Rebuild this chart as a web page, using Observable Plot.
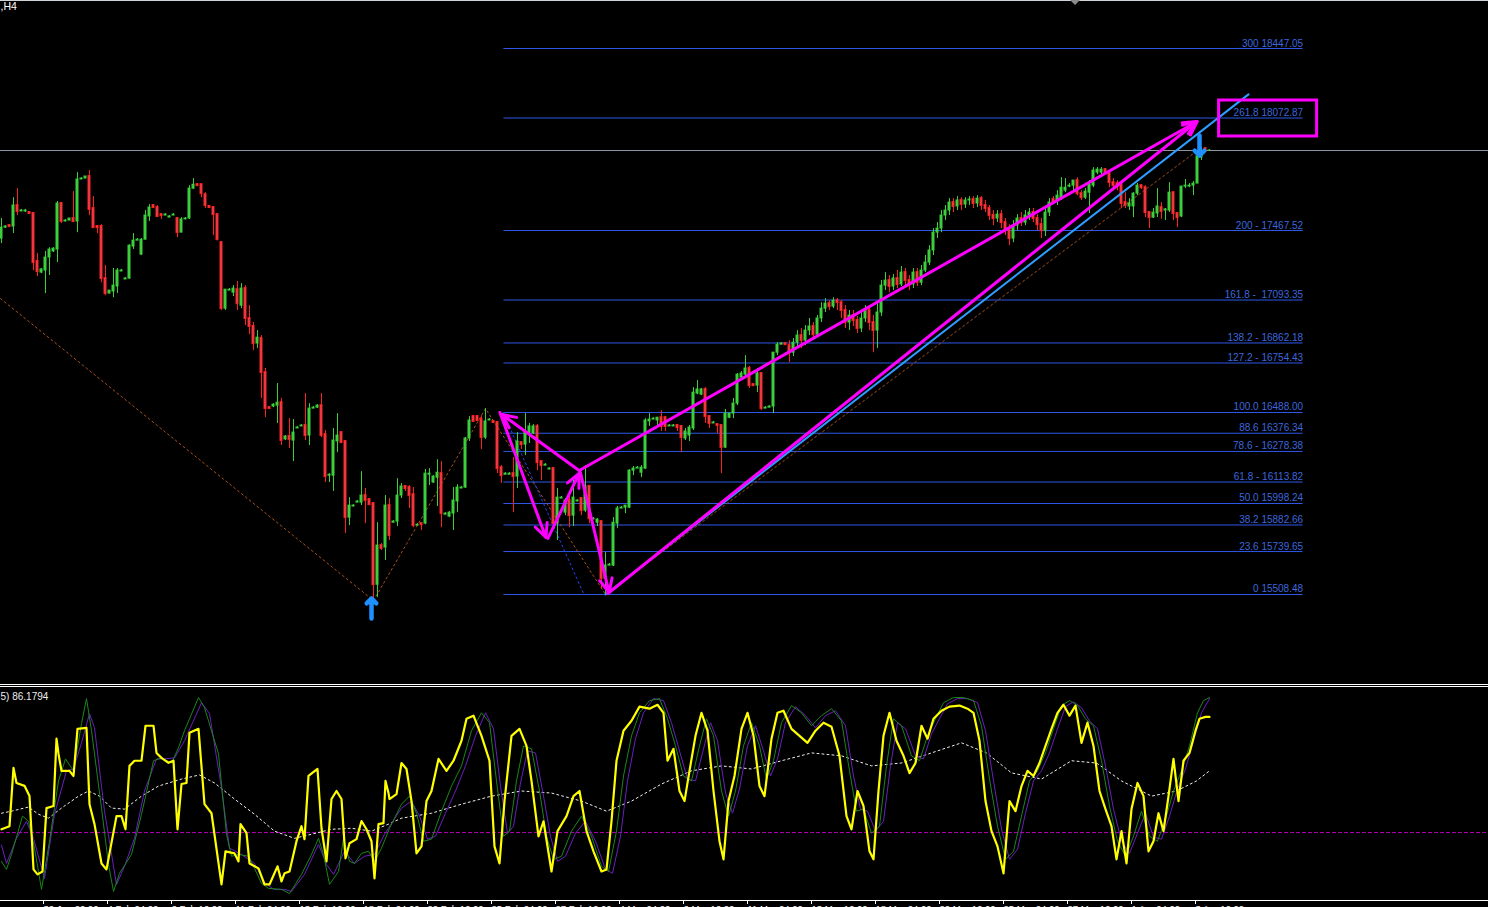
<!DOCTYPE html>
<html><head><meta charset="utf-8">
<script src="https://cdn.jsdelivr.net/npm/d3@7"></script>
<script src="https://cdn.jsdelivr.net/npm/@observablehq/plot@0.6"></script>
<style>
html,body{margin:0;padding:0;background:#000;overflow:hidden}
#wrap{position:relative;width:1488px;height:907px;background:#000;overflow:hidden}
#top{position:absolute;left:0;top:0;width:1488px;height:684px}
#bot{position:absolute;left:0;top:687px;width:1488px;height:220px}
.hl{position:absolute;left:0;width:1488px;height:1px;background:#fff}
#shift{position:absolute;left:1070px;top:0;width:0;height:0;border-left:5px solid transparent;border-right:5px solid transparent;border-top:5px solid #8a8a8a}
svg{display:block}
</style></head>
<body><div id="wrap"><div id="top"></div><div class="hl" style="top:684px"></div><div class="hl" style="top:686px"></div><div id="bot"></div><div class="hl" style="top:0px;background:#cfd3da"></div><div id="shift"></div></div>
<script>
// ---------- price candles (H4) ----------
const opens = [
17424,17483,17494,17489,17602,17570,17570,17564,17559,17301,
17241,17252,17322,17355,17365,17613,17516,17521,17532,17516,
17742,17747,17758,17586,17489,17489,17209,17128,17139,17166,
17247,17204,17209,17381,17413,17338,17418,17543,17602,17591,
17553,17548,17537,17548,17532,17456,17527,17532,17693,17714,
17714,17660,17597,17591,17553,17402,17047,17144,17133,17149,
17063,17155,16994,16951,16859,16886,16703,16514,16520,16525,
16541,16343,16359,16337,16402,16413,16418,16364,16509,16514,
16525,16369,16148,16148,16332,16380,16332,15922,15982,16003,
16003,16041,16019,15998,15561,15772,15761,15987,15895,15901,
16041,16090,16084,16046,15879,15890,15890,16153,16111,16137,
16159,15938,15928,15944,16009,16079,16084,16348,16466,16466,
16450,16353,16445,16440,16434,16191,16153,16153,16159,16143,
16326,16315,16380,16375,16413,16224,16202,16181,16186,15890,
16025,15949,16014,15933,16009,16025,15960,16090,15912,15895,
15901,15594,15664,15664,15890,15971,15976,15976,16175,16186,
16164,16186,16440,16450,16445,16460,16460,16413,16413,16418,
16413,16348,16364,16402,16590,16584,16612,16466,16429,16423,
16418,16299,16460,16482,16536,16676,16692,16725,16638,16633,
16698,16509,16514,16520,16810,16853,16859,16848,16810,16864,
16902,16875,16929,16951,16907,16994,17047,17074,17058,17090,
17079,17037,16972,17010,16983,16940,16994,17037,16972,16929,
17026,17171,17198,17166,17209,17177,17241,17198,17177,17241,
17187,17252,17295,17360,17456,17478,17548,17575,17618,17597,
17629,17607,17629,17634,17613,17639,17602,17586,17548,17532,
17553,17510,17478,17424,17494,17532,17510,17548,17564,17532,
17499,17467,17564,17634,17624,17639,17682,17704,17709,17736,
17666,17644,17671,17709,17779,17779,17795,17774,17725,17720,
17714,17618,17597,17597,17666,17709,17698,17564,17537,17559,
17591,17575,17575,17671,17559,17543,17704,17704,17709,17720,
17860,17908,17898];
const highs = [
17532,17494,17499,17644,17693,17581,17581,17570,17559,17344,
17263,17355,17375,17375,17624,17618,17527,17532,17677,17779,
17752,17758,17790,17650,17494,17499,17279,17144,17263,17263,
17258,17214,17391,17451,17424,17424,17575,17607,17607,17602,
17559,17559,17548,17559,17537,17537,17537,17709,17747,17720,
17714,17671,17602,17597,17559,17408,17149,17155,17171,17193,
17182,17171,17063,16972,16929,16902,16725,16520,16536,16644,
16563,16364,16455,16450,16413,16423,16590,16536,16520,16530,
16590,16391,16159,16402,16482,16380,16332,16030,15992,16014,
16170,16079,16025,15998,15895,15783,16041,16025,15906,16132,
16106,16090,16095,16084,15890,15890,16181,16186,16148,16234,
16224,15949,15955,16084,16100,16090,16353,16466,16471,16471,
16471,16509,16455,16445,16440,16202,16164,16164,16245,16380,
16326,16482,16429,16423,16423,16224,16213,16191,16186,16079,
16036,16025,16057,16132,16019,16030,16202,16095,15922,15917,
15901,15734,15675,15922,15982,15982,15987,16181,16197,16197,
16202,16455,16482,16460,16460,16498,16466,16423,16423,16418,
16418,16402,16418,16622,16660,16617,16622,16471,16440,16423,
16418,16504,16482,16563,16698,16709,16794,16736,16644,16725,
16698,16520,16525,16810,16864,16864,16864,16875,16886,16929,
16940,16956,16994,16972,17010,17079,17101,17090,17106,17101,
17090,17063,17037,17037,17005,17026,17063,17063,17010,17079,
17198,17241,17225,17231,17252,17274,17263,17225,17263,17263,
17279,17333,17386,17478,17510,17575,17602,17639,17639,17650,
17644,17644,17650,17650,17655,17650,17629,17602,17575,17575,
17575,17532,17499,17521,17553,17564,17575,17586,17586,17553,
17532,17586,17639,17650,17682,17752,17747,17720,17736,17752,
17682,17693,17736,17806,17806,17806,17801,17779,17747,17736,
17736,17671,17639,17671,17720,17714,17709,17564,17586,17693,
17618,17586,17725,17671,17559,17704,17742,17720,17731,17866,
17914,17914,17903];
const lows = [
17397,17478,17483,17451,17548,17570,17564,17553,17252,17220,
17236,17128,17225,17349,17295,17505,17516,17521,17510,17456,
17742,17747,17548,17478,17451,17187,17117,17128,17106,17128,
17247,17204,17204,17365,17413,17333,17418,17516,17586,17537,
17527,17548,17537,17548,17429,17456,17527,17527,17688,17709,
17644,17586,17586,17440,17413,17037,17037,17144,17112,17037,
17047,16956,16907,16821,16832,16563,16460,16504,16514,16429,
16310,16337,16294,16224,16402,16413,16337,16310,16509,16509,
16353,16111,16111,16063,16272,16321,15837,15879,15982,16003,
15987,15890,15987,15476,15492,15745,15691,15799,15895,15874,
16025,16063,15971,15868,15879,15853,15884,16095,16106,15982,
15868,15938,15922,15853,15949,16079,16079,16332,16434,16440,
16289,16343,16445,16429,16159,16106,16153,16153,15949,16079,
16289,16256,16321,16369,16175,16122,16202,16181,15879,15799,
16025,15933,15868,15874,16009,15933,15949,15890,15912,15874,
15540,15508,15664,15659,15863,15971,15944,15971,16148,16186,
16137,16181,16413,16450,16413,16386,16386,16413,16413,16386,
16272,16337,16332,16391,16584,16579,16429,16402,16429,16375,
16159,16294,16455,16455,16525,16660,16682,16617,16633,16595,
16498,16509,16514,16482,16794,16853,16848,16757,16789,16843,
16832,16848,16902,16886,16897,16972,17026,17037,17047,17037,
16994,16940,16929,16951,16913,16918,16972,16929,16810,16832,
17005,17144,17133,17144,17155,17166,17171,17144,17155,17166,
17171,17241,17279,17333,17424,17456,17521,17548,17564,17575,
17575,17586,17602,17586,17591,17575,17564,17521,17494,17510,
17478,17440,17386,17402,17467,17489,17494,17521,17510,17467,
17424,17435,17543,17607,17602,17629,17671,17698,17666,17655,
17629,17634,17559,17698,17768,17768,17768,17698,17682,17682,
17586,17586,17575,17537,17655,17688,17537,17478,17532,17537,
17527,17521,17564,17521,17483,17537,17693,17698,17655,17720,
17844,17887,17893];
const closes = [
17483,17489,17489,17602,17570,17575,17575,17559,17295,17247,
17258,17322,17365,17370,17613,17516,17521,17532,17516,17742,
17747,17758,17581,17483,17483,17209,17128,17144,17171,17252,
17252,17209,17386,17413,17418,17418,17548,17591,17591,17543,
17548,17553,17543,17553,17456,17527,17532,17693,17714,17709,
17666,17602,17591,17553,17418,17047,17149,17149,17155,17074,
17155,16994,16951,16859,16891,16703,16509,16509,16530,16541,
16337,16359,16343,16380,16407,16418,16364,16509,16514,16525,
16364,16143,16153,16337,16364,16326,15922,15987,15987,16009,
16041,16014,15992,15561,15772,15756,15987,15826,15901,16041,
16090,16079,16041,15879,15884,15884,16159,16159,16143,16164,
15944,15944,15949,16014,16084,16084,16348,16445,16440,16445,
16353,16440,16450,16434,16186,16148,16159,16159,16143,16332,
16315,16380,16413,16413,16218,16202,16207,16186,15890,16030,
16030,16014,15933,16030,16014,15960,16090,15917,15917,15912,
15594,15664,15669,15895,15971,15976,15987,16175,16186,16191,
16191,16445,16450,16455,16460,16413,16413,16418,16418,16407,
16353,16386,16407,16595,16612,16612,16466,16429,16434,16418,
16299,16482,16482,16536,16692,16698,16725,16633,16633,16698,
16509,16514,16520,16810,16853,16859,16853,16810,16864,16902,
16875,16929,16951,16907,16994,17047,17074,17058,17090,17079,
17037,16972,17010,16983,16940,16994,17037,16972,16929,17026,
17171,17198,17166,17209,17177,17241,17198,17177,17241,17187,
17252,17295,17360,17456,17478,17548,17575,17618,17597,17629,
17607,17629,17634,17613,17639,17602,17586,17548,17532,17553,
17510,17478,17424,17494,17532,17510,17548,17564,17532,17499,
17467,17564,17618,17624,17655,17698,17698,17709,17736,17666,
17644,17677,17714,17790,17795,17795,17779,17725,17709,17704,
17613,17602,17613,17666,17709,17698,17564,17537,17564,17597,
17570,17581,17671,17559,17537,17704,17709,17709,17720,17866,
17893,17893,17898];

// ---------- Fibonacci retracement / expansion ----------
const fibLevels = [0, 23.6, 38.2, 50.0, 61.8, 78.6, 88.6, 100.0, 127.2, 138.2, 161.8, 200, 261.8, 300];
const fibPrices = [15508.48, 15739.65, 15882.66, 15998.24, 16113.82, 16278.38, 16376.34, 16488.00, 16754.43, 16862.18, 17093.35, 17467.52, 18072.87, 18447.05];
const fibLabels = ["0 15508.48", "23.6 15739.65", "38.2 15882.66", "50.0 15998.24", "61.8 - 16113.82", "78.6 - 16278.38", "88.6 16376.34", "100.0 16488.00", "127.2 - 16754.43", "138.2 - 16862.18", "161.8 -\u00a0 17093.35", "200 - 17467.52", "261.8 18072.87", "300 18447.05"];
const fibBars = [125.6, 325.4];
const fibAnchor = [[125.4, 16488.00], [145.6, 15508.48]];

// ---------- drawn objects (bar index, price) ----------
const zigzag = [[-0.25, 17101], [93, 15476], [121, 16509], [151, 15508.48], [300, 17914]];
const trendLine = [[151, 15508.48], [311.75, 18200]];
const waveArrows = [
  [124.6, 16488, 136.1, 15815],
  [136.6, 15810, 144.4, 16160],
  [144.4, 16176, 125.1, 16477],
  [144.6, 16176, 151.9, 15519],
  [144.9, 16181, 298.9, 18054],
  [151.6, 15514, 298.9, 18054]
];
const targetBox = [[304.4, 328.9, 17973.5, 18167.2]];
const buySignals = [[92.5, 15487]];
const sellSignals = [[299.5, 17871]];

// ---------- oscillator pane ----------
const levels = [30];
const mainLine = [[0,31.6],[2,33.1],[3,61.4],[3.75,54.1],[5.75,52.7],[7,47.8],[8,12.1],[9,9.7],[10.25,11.1],[11.25,41.9],[13,42.9],[13.75,75.6],[14.25,68.2],[15,60.0],[17,60.0],[18,57.5],[19,80.4],[21.25,80.9],[22,43.8],[23.25,34.1],[25,15.0],[26.25,12.1],[28.75,38.0],[30,38.0],[31,31.6],[32,62.4],[33.25,64.9],[35,64.9],[36,81.9],[38,81.9],[38.75,68.7],[40,66.3],[41.75,63.9],[43,64.9],[44,31.6],[45,53.6],[46.25,54.1],[47,78.5],[49.25,80.4],[50.75,43.8],[52.5,39.4],[55,4.8],[56,20.9],[58.25,19.9],[59.25,16.0],[59.75,34.1],[61.25,29.7],[62,15.0],[64.25,12.6],[65.75,4.8],[67,4.8],[69,13.6],[70,6.3],[70.75,10.2],[72,11.1],[73.75,25.8],[75,33.1],[75.75,26.8],[76.75,57.5],[79,60.9],[80,32.1],[81.25,16.0],[82.5,46.3],[83.75,50.2],[85,46.3],[86,17.5],[87,24.8],[88.75,26.8],[90,35.6],[91.25,31.6],[92.5,25.8],[93.25,7.7],[94.25,34.1],[95.5,34.6],[96,55.1],[96.75,49.2],[97,46.3],[98.75,48.7],[100,63.8],
[101.25,60.9],[102.5,45.3],[103.75,19.9],[105,23.3],[106.25,45.3],[107.5,50.2],[109.25,65.8],[111.25,60.0],[113,64.9],[115,74.6],[116.25,85.3],[118,86.8],[120,77.0],[122,64.9],[123.25,23.3],[124.5,15.0],[125.75,45.3],[127.5,77.0],[129.5,80.4],[131.25,72.1],[132.5,55.1],[134.25,28.2],[135.5,35.5],[137.5,11.1],[139,30.7],[141.25,38.0],[143,47.7],[144.5,50.2],[146.25,30.7],[148,20.9],[150,11.1],[151.25,12.1],[152.5,35.5],[153.75,64.9],[155.5,79.5],[157.5,84.3],[159.5,91.2],[162,90.2],[164,92.1],[165.5,88.2],[166.5,64.9],[168,70.7],[169.5,50.2],[170.75,45.3],[172,60.0],[173.5,77.0],[175,88.2],[176.5,79.5],[178,50.2],[179.5,25.8],[180.5,17.0],[181.75,45.3],[183.25,57.5],[185,80.4],[186.5,88.2],[188,77.0],[189.5,52.6],[190.75,47.7],[192.5,75.6],[194,88.2],[195.5,89.2],[197.5,80.4],[199.5,77.0],[201.5,73.6],[203.5,79.5],[205.5,83.4],[207.5,81.4],[209.5,67.3],[211.25,38.0],[212.5,31.6],[214,50.2],[215.5,42.9],[217,20.9],[218,17.0],[219.25,50.2],[220.5,77.0],[222,88.2],[223.75,74.6],[225.5,67.3],[227,58.9],[228.5,63.8],[230,81.9],[231.5,75.6],[233,85.3],[235,89.2],[237,91.2],[239.5,91.7],[241.5,90.2],[243,88.2],[244.5,74.6],[246,45.3],[247.5,30.7],[249,23.3],[250.5,10.2],[252,45.3],[253.5,40.4],[255,52.6],[256.5,60.0],[258,57.5],[259.5,63.8],[261,72.1],[262.5,80.4],[264,88.2],[265.5,92.1],[267,86.8],[268.5,91.7],[270,73.6],[271.5,83.4],[273,72.1],[274.5,50.2],[276,41.4],[277.5,33.1],[278.75,17.0],[280,30.7],[281.25,15.0],[282.5,41.4],[284,54.1],[285.5,47.7],[286.75,20.9],[288,25.8],[289.25,39.4],[290.5,30.7],[291.75,47.7],[293,65.8],[294.25,45.3],[295.5,64.9],[297,68.7],[298.5,79.5],[299.5,85.3],[301,86.2],[302,86.18]];
const signalLine = [[0,16.0],[1.25,12.1],[2.5,19.4],[5.25,38.0],[6.75,35.5],[8.25,22.4],[10,2.4],[12,25.8],[14.25,55.1],[16,65.8],[18,60.0],[20,82.9],[21.25,95.1],[22.5,79.5],[25,41.9],[26.75,14.5],[28,1.4],[29.5,10.2],[32.5,19.4],[35,38.9],[38,64.9],[40,66.3],[42.5,63.8],[44.25,71.2],[45.75,79.5],[49.25,95.6],[50.75,90.7],[54.25,68.2],[56.25,29.2],[57.5,18.5],[59.25,19.4],[61.75,18.5],[63.25,12.6],[65,5.3],[66.75,2.9],[70,2.4],[72,0.4],[75,9.7],[77.5,19.4],[79.25,27.2],[80.5,19.4],[82,4.8],[84.25,11.1],[85.5,27.2],[87,16.0],[88.25,15.0],[90,19.9],[91.75,20.9],[93.25,16.0],[95,22.4],[97,32.1],[100,43.8],
[102,47.7],[103.75,39.4],[105.5,25.8],[107.5,26.8],[110,40.4],[112.5,52.6],[115,62.4],[117.5,79.5],[120,88.2],[122,83.4],[123.75,55.1],[125.5,28.2],[127,30.7],[128.75,55.1],[130.5,72.1],[132.5,70.7],[134.5,50.2],[136.25,28.2],[138,17.0],[140,18.5],[142.5,30.7],[145,38.0],[147.5,28.2],[150,13.6],[151.75,11.1],[153.75,30.7],[155.5,57.5],[157.5,77.0],[159.5,88.2],[162,94.1],[164.5,95.1],[166.5,85.3],[168.5,72.1],[170.5,57.5],[172.5,55.1],[174.5,72.1],[176.25,85.3],[178,77.0],[180,50.2],[181.75,38.0],[183.5,50.2],[185.5,72.1],[187.5,83.4],[189.5,72.1],[191.25,56.0],[193,64.9],[195,83.4],[197.5,91.7],[200,88.2],[202.5,81.9],[205,86.8],[207.5,90.2],[210,84.3],[212,60.0],[213.75,40.4],[215.5,41.4],[217.5,29.7],[219.5,33.1],[221.25,62.4],[223,85.3],[225,81.9],[227.5,67.3],[229.5,64.9],[231.5,77.0],[233.5,85.3],[235.5,93.1],[238,95.6],[240.5,95.6],[243,94.1],[245,81.9],[247,56.0],[249,33.1],[251,17.0],[253,20.9],[255,38.0],[257,55.1],[259,60.0],[261,68.7],[263,80.4],[265,91.7],[267,94.1],[269,91.7],[271,85.3],[273,81.9],[275,64.9],[277,42.9],[279,25.8],[281,18.5],[283,28.2],[285,40.4],[287,28.2],[289,25.8],[291,36.5],[293,50.2],[295,60.0],[297,72.1],[299,88.2],[300.5,94.1],[302,95.6]];
const slowSignalLine = [[0,23.9],[1.25,15.0],[3.75,27.2],[6.25,35.5],[8,27.2],[10.75,7.7],[13.25,38.9],[16.25,60.0],[18,60.9],[20,73.6],[22,87.8],[23.25,80.9],[25.75,40.4],[28.75,4.8],[30.75,13.6],[33.25,27.2],[35.75,50.2],[38.75,65.8],[40.75,65.8],[43.25,66.3],[45.75,74.6],[50,93.1],[52,87.8],[55,51.6],[57,22.4],[60,19.4],[63.25,15.0],[65.5,6.3],[68,2.4],[70.75,2.4],[72.5,1.4],[75.75,9.7],[79.25,24.3],[81.25,14.5],[83,9.7],[85.75,20.9],[88.25,15.0],[90.75,18.5],[93.25,19.4],[95.75,29.2],[100,41.9],
[102.5,45.3],[104.5,38.0],[106.5,26.8],[108.5,28.2],[111,39.4],[113.5,50.2],[116,62.4],[118.5,77.0],[121,88.2],[123,80.4],[124.75,52.6],[126.5,29.7],[128,33.1],[129.75,54.1],[131.5,69.7],[133.5,68.7],[135.5,47.7],[137.25,28.2],[139,16.0],[141,18.5],[143.5,29.7],[146,35.5],[148.5,25.8],[151,12.1],[152.75,10.2],[154.75,28.2],[156.5,55.1],[158.5,75.6],[160.5,88.2],[163,95.1],[165.5,94.1],[167.5,83.4],[169.5,69.7],[171.5,56.0],[173.5,55.1],[175.5,70.7],[177.25,83.4],[179,74.6],[181,49.2],[182.75,39.4],[184.5,51.2],[186.5,72.1],[188.5,81.9],[190.5,69.7],[192.25,57.5],[194,65.8],[196,83.4],[198.5,91.2],[201,86.8],[203.5,80.9],[206,86.8],[208.5,89.2],[211,81.9],[213,57.5],[214.75,41.4],[216.5,40.4],[218.5,30.7],[220.5,35.5],[222.25,62.4],[224,83.4],[226,80.4],[228.5,67.3],[230.5,65.8],[232.5,78.0],[234.5,85.3],[236.5,92.6],[239,95.1],[241.5,95.1],[244,93.1],[246,79.5],[248,55.1],[250,31.7],[252,17.0],[254,21.9],[256,39.4],[258,55.1],[260,60.0],[262,68.7],[264,80.4],[266,91.2],[268,93.6],[270,90.7],[272,84.3],[274,80.4],[276,62.4],[278,41.4],[280,25.8],[282,19.9],[284,29.7],[286,39.4],[288,27.7],[290,26.8],[292,38.0],[294,51.2],[296,60.9],[298,74.6],[300,88.2],[302,95.1]];
const slowLine = [[0,39.4],[2.5,40.4],[6.75,42.4],[9.25,38.9],[11.75,37.0],[15,41.9],[19.25,47.7],[21.75,50.2],[24.5,47.7],[27.5,41.9],[30.75,41.4],[35,47.7],[39.25,52.6],[45,56.0],[49.5,58.0],[53.25,54.1],[58.25,46.3],[63.25,38.9],[68.25,30.7],[73.25,27.2],[77.5,29.2],[82.5,31.6],[87.5,32.1],[92.5,30.7],[96.75,34.1],[100,37.0],[107.5,39.4],[115,43.8],[122.5,47.7],[130,50.2],[137.5,49.2],[145,45.3],[151.25,40.4],[157.5,45.3],[165,53.6],[172.5,60.0],[180,62.4],[187.5,60.9],[195,64.9],[202.5,68.7],[210,67.3],[217.5,62.4],[225,63.8],[232.5,68.7],[240,73.6],[246.25,68.7],[252.5,59.0],[260,56.0],[267.5,64.9],[273.75,63.8],[280,55.1],[287.5,47.7],[293.75,50.2],[298.75,55.1],[302,60.0]];
const paneLabel = ["5) 86.1794"];
const indMin = -3, indMax = 100;

// ---------- time axis ----------
const timeTicks = [10,26,42,58,74,90,106,122,138,154,170,186,202,218,234,250,266,282,298];
const timeLabels = ["30 Jan 20:00","4 Feb 04:00","6 Feb 16:00","11 Feb 04:00","13 Feb 16:00","18 Feb 04:00","20 Feb 16:00","25 Feb 04:00","27 Feb 16:00","4 Mar 04:00","6 Mar 16:00","11 Mar 04:00","13 Mar 16:00","18 Mar 04:00","20 Mar 16:00","25 Mar 04:00","27 Mar 16:00","1 Apr 04:00","3 Apr 16:00"];

// ---------- build ----------
(function () {
const GREEN = "#3ccf3c", RED = "#ff2020", PINK = "#e24c5e";
const FONT = "Liberation Sans, Arial, sans-serif";
const bars = opens.map((o, i) => ({i, o, h: highs[i], l: lows[i], c: closes[i]}));
const upBars = bars.filter(d => d.c >= d.o);
const dnBars = bars.filter(d => d.c < d.o);
const fib = fibLevels.map((lv, i) => ({lv, p: fibPrices[i], label: fibLabels[i]}));
const xDomain = [-0.25, 371.75];
const yTop = 18705.39, pxPerPt = 0.185804;

const priceChart = Plot.plot({
  width: 1488, height: 684, margin: 0,
  style: {background: "#000", fontFamily: FONT, overflow: "hidden"},
  x: {type: "linear", domain: xDomain, axis: null},
  y: {type: "linear", domain: [yTop - 684 / pxPerPt, yTop], axis: null},
  marks: [
    Plot.ruleY([closes[closes.length - 1]], {stroke: "#8e98a8", strokeWidth: 1}),
    Plot.ruleY(fib, {y: "p", x1: fibBars[0], x2: fibBars[1], stroke: "#2f57e6", strokeWidth: 1}),
    Plot.text(fib, {x: fibBars[1], y: "p", text: "label", textAnchor: "end", lineAnchor: "bottom", dy: -2, fill: "#3e66dc", fontSize: 10, fontFamily: FONT}),
    Plot.line(zigzag, {x: d => d[0], y: d => d[1], stroke: "#a8501c", strokeWidth: 1, strokeDasharray: "2,3"}),
    Plot.line(fibAnchor, {x: d => d[0], y: d => d[1], stroke: "#2442f0", strokeWidth: 1, strokeDasharray: "2,3"}),
    Plot.ruleX(upBars, {x: "i", y1: "l", y2: "h", stroke: GREEN, strokeWidth: 1}),
    Plot.ruleX(dnBars, {x: "i", y1: "l", y2: "h", stroke: RED, strokeWidth: 1}),
    Plot.rect(upBars, {x1: d => d.i - 0.375, x2: d => d.i + 0.375, y1: "o", y2: "c", fill: GREEN, insetTop: -0.5, insetBottom: -0.5}),
    Plot.rect(dnBars, {x1: d => d.i - 0.375, x2: d => d.i + 0.375, y1: "o", y2: "c", fill: PINK, stroke: RED, strokeWidth: 1, insetLeft: 0.5, insetRight: 0.5, insetTop: -0.5, insetBottom: -0.5}),
    Plot.line(trendLine, {x: d => d[0], y: d => d[1], stroke: "#2f9cff", strokeWidth: 2}),
    Plot.arrow(waveArrows, {x1: d => d[0], y1: d => d[1], x2: d => d[2], y2: d => d[3], stroke: "#ff00ff", strokeWidth: 3, headLength: 7.5, headAngle: 50}),
    Plot.rect(targetBox, {x1: d => d[0], x2: d => d[1], y1: d => d[2], y2: d => d[3], fill: "none", stroke: "#ff00ff", strokeWidth: 3}),
    Plot.vector(buySignals, {x: d => d[0], y: d => d[1], length: 20, rotate: 0, anchor: "end", r: 4.2, stroke: "#1e90ff", strokeWidth: 4.5}),
    Plot.vector(sellSignals, {x: d => d[0], y: d => d[1], length: 20, rotate: 180, anchor: "end", r: 4.2, stroke: "#1e90ff", strokeWidth: 4.5}),
    Plot.text([",H4"], {frameAnchor: "top-left", text: d => d, lineAnchor: "top", dy: 2, fill: "#ffffff", fontSize: 10.5, fontFamily: FONT})
  ]
});
document.getElementById("top").appendChild(priceChart);

const labelOf = new Map(timeTicks.map((t, i) => [t, timeLabels[i]]));
const oscChart = Plot.plot({
  width: 1488, height: 220, marginTop: 1, marginBottom: 7, marginLeft: 0, marginRight: 0,
  style: {background: "#000", color: "#ffffff", fontFamily: FONT, fontSize: "9.5px", overflow: "hidden"},
  x: {type: "linear", domain: xDomain, axis: null},
  y: {type: "linear", domain: [indMin, indMax], axis: null},
  marks: [
    Plot.ruleY(levels, {stroke: "#b400b4", strokeWidth: 1, strokeDasharray: "4,2"}),
    Plot.line(slowLine, {x: d => d[0], y: d => d[1], stroke: "#f0f0f0", strokeWidth: 1, strokeDasharray: "2,3"}),
    Plot.line(slowSignalLine, {x: d => d[0], y: d => d[1], stroke: "#6a1fc0", strokeWidth: 1}),
    Plot.line(signalLine, {x: d => d[0], y: d => d[1], stroke: "#1a861a", strokeWidth: 1}),
    Plot.line(mainLine, {x: d => d[0], y: d => d[1], stroke: "#ffff00", strokeWidth: 2.2}),
    Plot.ruleY([indMin], {stroke: "#ffffff", strokeWidth: 1}),
    Plot.axisX({ticks: timeTicks, tickFormat: d => labelOf.get(d), tickSize: 4, tickPadding: 1, textAnchor: "start", dx: 2, anchor: "bottom", label: null, stroke: "#ffffff", fill: "#ffffff", fontSize: 9.5}),
    Plot.text(paneLabel, {frameAnchor: "top-left", text: d => d, lineAnchor: "top", dy: 4, fill: "#eeeeee", fontSize: 10, fontFamily: FONT})
  ]
});
document.getElementById("bot").appendChild(oscChart);
})();
</script>
</body></html>
